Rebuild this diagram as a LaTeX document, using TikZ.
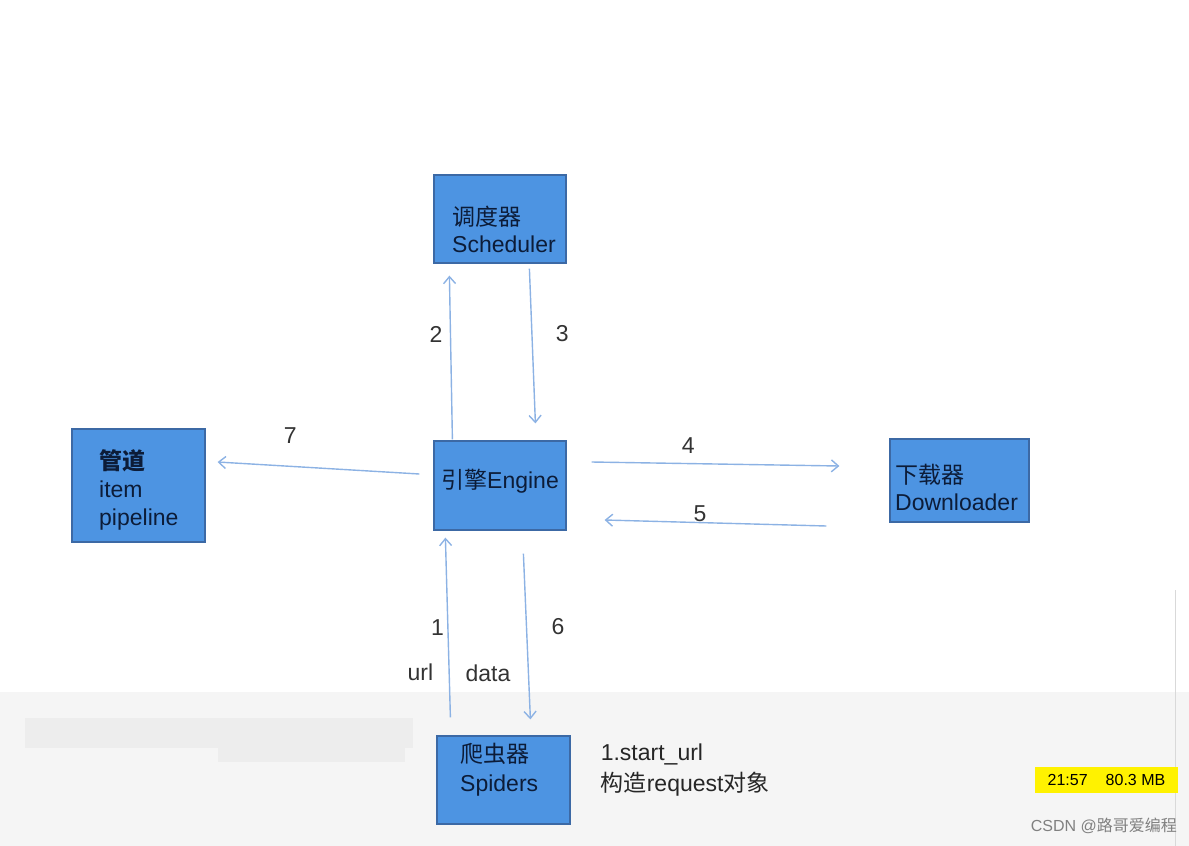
\documentclass[tikz,border=0pt]{standalone}
\usepackage{fontspec}
\setmainfont{Liberation Sans}
\newfontfamily\cjk{Noto Sans CJK SC}
\usetikzlibrary{arrows.meta,calc}
\definecolor{boxblue}{RGB}{77,148,226}
\definecolor{boxedge}{RGB}{60,105,165}
\definecolor{boxink}{RGB}{12,28,56}
\definecolor{flowblue}{RGB}{140,178,228}

\begin{document}
\begin{tikzpicture}[x=1pt, y=-1pt, >={Straight Barb[length=7pt,width=12pt]},
  box/.style={draw=boxedge, fill=boxblue, line width=1.2pt, inner sep=0pt},
  boxtext/.style={text=boxink, font=\fontsize{23}{27}\selectfont, align=left, inner sep=0pt, anchor=west},
  flow/.style={->, flowblue, line width=1.4pt},
  num/.style={text=black!80, font=\fontsize{23}{26}\selectfont}]
  \useasboundingbox (0,0) rectangle (1189,846);
  % grey strip of the video frame
  \fill[black!4] (0,692) rectangle (1189,846);
  \fill[black!7] (25,718) rectangle (413,748);
  \fill[black!7] (218,748) rectangle (405,762);
  \draw[black!15, line width=1pt] (1175,590) -- (1175,846);

  % the five parts
  \node[box, minimum width=132pt, minimum height=88pt] (sch) at (500,219) {};
  \node[boxtext] (schT) at (452,229) {{\cjk 调度器}\\Scheduler};
  \node[box, minimum width=133pt, minimum height=113pt] (pipe) at (138.5,485.5) {};
  \node[boxtext, font=\fontsize{23}{28}\selectfont] (pipeT) at (99,490) {{\cjk\bfseries 管道}\\item\\pipeline};
  \node[box, minimum width=132pt, minimum height=89pt] (eng) at (500,485.5) {};
  \node[boxtext] (engT) at (441,481) {{\cjk 引擎}Engine};
  \node[box, minimum width=139pt, minimum height=83pt] (dl) at (959.5,480.5) {};
  \node[boxtext] (dlT) at (895,487) {{\cjk 下载器}\\Downloader};
  \node[box, minimum width=133pt, minimum height=88pt] (spd) at (503.5,780) {};
  \node[boxtext, font=\fontsize{23}{29}\selectfont] (spdT) at (460,770) {{\cjk 爬虫器}\\Spiders};

  \node[boxtext, text=black!85, font=\fontsize{23}{31}\selectfont] (start) at ($(spd.east)+(30,-9.5)$) {1.start\_url\\{\cjk 构造}request{\cjk 对象}};

  % flows
  \draw[flow] ($(eng.north west)+(19,-1)$) -- ($(sch.south west)+(16,12)$) node[num, pos=0.64, left=4pt] (n2) {2};
  \draw[flow] ($(sch.south west)+(96,5)$) -- ($(eng.north west)+(102,-17)$) node[num, pos=0.42, right=20pt] (n3) {3};
  \draw[flow] ($(eng.west)+(-14,-11.5)$) -- ($(pipe.east)+(12,-23.5)$) node[num, pos=0.64, above=19pt] (n7) {7};
  \draw[flow] ($(eng.east)+(25,-23.5)$) -- ($(dl.west)+(-50,-14.5)$) node[num, pos=0.39, above=6pt] (n4) {4};
  \draw[flow] ($(dl.west)+(-63,45.5)$) -- ($(eng.east)+(38,34.5)$) node[num, pos=0.57, above, inner sep=0pt] (n5) {5};
  \draw[flow] ($(spd.north west)+(14,-18)$) -- ($(eng.south west)+(12,7)$)
    node[num, pos=0.5, left=0pt] (n1) {1}
    node[num, pos=0.25, left=12pt] (url) {url};
  \draw[flow] ($(eng.south west)+(90,23)$) -- ($(spd.north west)+(94,-16)$)
    node[num, pos=0.44, right=21pt] (n6) {6}
    node[num, pos=0.72, left=14pt] (data) {data};

  % recorder overlay and watermark
  \node[fill=yellow, minimum width=143pt, minimum height=26pt, inner sep=0pt,
    font=\fontsize{16}{18}\selectfont] (rec) at (1106.5,780) {21:57\hspace{18pt}80.3 MB};
  \node[anchor=east, text=black!50, inner sep=0pt, font=\fontsize{16}{18}\selectfont] (mark) at (1177,826) {CSDN @{\cjk 路哥爱编程}};
\end{tikzpicture}
\end{document}
